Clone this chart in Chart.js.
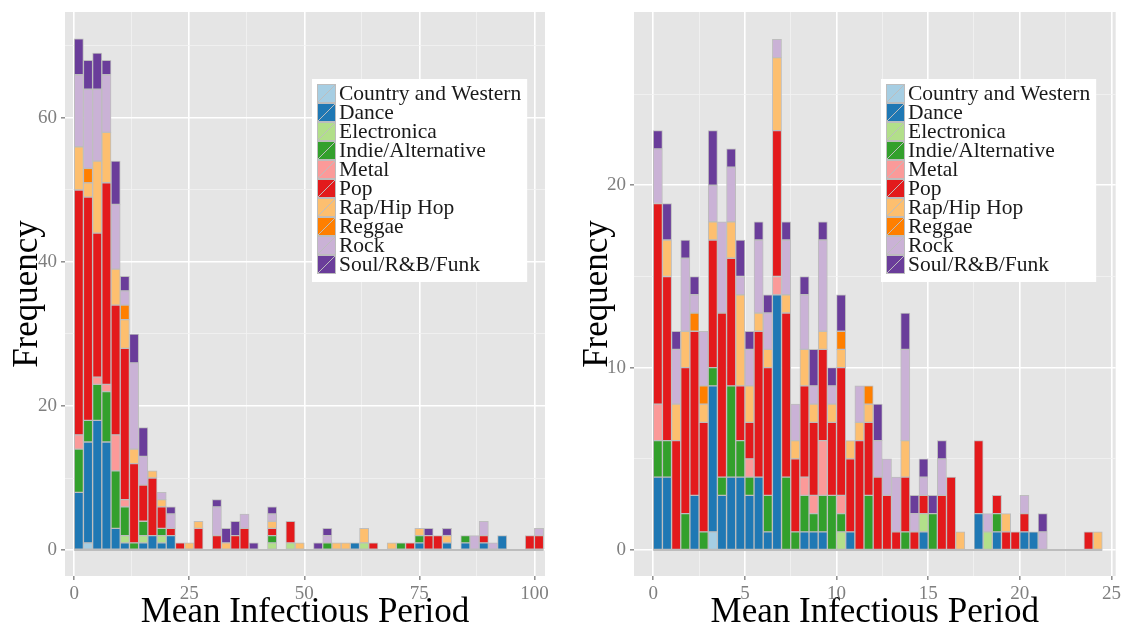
<!DOCTYPE html>
<html>
<head>
<meta charset="utf-8">
<script src="https://cdn.jsdelivr.net/npm/chart.js@4.4.1/dist/chart.umd.min.js"></script>
<style>
  body { margin: 0; background: #fff; }
  #wrap { position: relative; width: 1124px; height: 627px; }
  #wrap canvas { position: absolute; top: 0; }
</style>
</head>
<body>
<div id="wrap">
  <canvas id="left" width="562" height="627" style="left:0"></canvas>
  <canvas id="right" width="562" height="627" style="left:562px"></canvas>
</div>
<script>
var genres = ['Country and Western', 'Dance', 'Electronica', 'Indie/Alternative', 'Metal',
  'Pop', 'Rap/Hip Hop', 'Reggae', 'Rock', 'Soul/R&B/Funk'];
var genreColors = ['#A6CEE3', '#1F78B4', '#B2DF8A', '#33A02C', '#FB9A99',
  '#E31A1C', '#FDBF6F', '#FF7F00', '#CAB2D6', '#6A3D9A'];

// left panel: bins of width 2
var leftBinWidth = 2;
var leftBins = [0, 2, 4, 6, 8, 10, 12, 14, 16, 18, 20, 22, 24, 26, 28, 30, 32, 34, 36, 38,
  40, 42, 44, 46, 48, 50, 52, 54, 56, 58, 60, 62, 64, 66, 68, 70, 72, 74, 76, 78,
  80, 82, 84, 86, 88, 90, 92, 94, 96, 98, 100];
var leftCountry = [0,1,0,0,0,0,0,0,0,0, 0,0,0,0,0,0,0,0,0,0, 0,0,0,0,0,0,0,0,0,0, 0,0,0,0,0,0,0,0,0,0, 0,0,0,0,0,0,0,0,0,0, 0];
var leftDance   = [8,14,18,15,3,1,0,1,2,1, 2,0,0,0,0,0,0,0,0,0, 0,0,0,0,0,0,0,0,0,0, 1,0,0,0,0,0,0,1,0,0, 1,0,1,0,1,0,2,0,0,0, 0];
var leftElec    = [0,0,0,0,0,1,0,1,0,1, 0,0,0,0,0,0,0,0,0,0, 0,1,0,1,0,0,0,0,0,0, 0,1,0,0,0,0,0,0,0,0, 0,0,0,0,0,0,0,0,0,0, 0];
var leftIndie   = [6,3,5,7,8,4,1,2,0,1, 0,0,0,0,0,0,0,0,0,0, 0,1,0,0,0,0,0,1,0,0, 0,0,0,0,0,1,0,1,0,0, 0,0,1,0,0,0,0,0,0,0, 0];
var leftMetal   = [2,0,1,1,5,1,0,0,0,0, 0,0,0,0,0,0,0,0,0,0, 0,0,0,0,0,0,0,0,0,0, 0,0,0,0,0,0,0,0,0,0, 0,0,0,0,0,0,0,0,0,0, 0];
var leftPop     = [34,31,20,28,18,21,11,5,8,3, 1,1,0,3,0,2,0,2,3,0, 0,1,0,3,0,0,0,0,0,0, 0,0,1,0,0,0,1,0,2,2, 0,0,0,0,1,0,0,0,0,2, 2];
var leftRap     = [6,2,10,7,5,4,2,0,1,1, 0,0,1,1,0,0,1,0,0,0, 0,1,0,0,1,0,0,0,1,1, 0,2,0,0,1,0,0,1,0,0, 1,0,0,0,0,0,0,0,0,0, 0];
var leftReggae  = [0,2,0,0,0,2,0,0,0,0, 0,0,0,0,0,0,0,0,0,0, 0,0,0,0,0,0,0,0,0,0, 0,0,0,0,0,0,0,0,0,0, 0,0,0,0,0,0,0,0,0,0, 0];
var leftRock    = [10,11,10,8,9,2,12,4,0,1, 2,0,0,0,0,4,0,0,2,0, 0,1,0,0,0,0,0,1,0,0, 0,0,0,0,0,0,0,0,0,0, 0,0,0,2,2,1,0,0,0,0, 1];
var leftSoul    = [5,4,5,2,6,2,4,4,0,0, 1,0,0,0,0,1,2,2,0,1, 0,1,0,0,0,0,1,1,0,0, 0,0,0,0,0,0,0,0,1,0, 1,0,0,0,0,0,0,0,0,0, 0];

// right panel: bins of width 0.5
var rightBinWidth = 0.5;
var rightBins = [0, 0.5, 1, 1.5, 2, 2.5, 3, 3.5, 4, 4.5, 5, 5.5, 6, 6.5, 7, 7.5, 8, 8.5, 9, 9.5,
  10, 10.5, 11, 11.5, 12, 12.5, 13, 13.5, 14, 14.5, 15, 15.5, 16, 16.5, 17, 17.5, 18, 18.5, 19, 19.5,
  20, 20.5, 21, 21.5, 22, 22.5, 23, 23.5, 24];
var rightCountry = [0,0,0,0,0,0,1,0,0,0, 0,0,0,0,0,0,0,0,0,0, 0,0,0,0,0,0,0,0,0,0, 0,0,0,0,0,0,0,0,0,0, 0,0,0,0,0,0,0,0,0];
var rightDance   = [4,4,0,0,3,0,8,3,4,4, 3,4,1,14,0,0,1,1,1,0, 0,1,0,0,0,0,0,0,0,1, 0,0,0,0,0,2,0,1,0,0, 1,1,0,0,0,0,0,0,0];
var rightElec    = [0,0,0,0,0,0,0,0,0,0, 0,0,0,0,0,0,0,0,0,0, 1,0,0,0,0,0,0,0,0,1, 0,0,0,0,0,0,1,0,0,0, 0,0,0,0,0,0,0,0,0];
var rightIndie   = [2,2,0,2,0,1,1,1,5,2, 1,0,2,0,4,1,2,1,2,3, 1,0,0,3,0,0,0,1,0,0, 2,0,0,0,0,0,0,1,0,0, 0,0,0,0,0,0,0,0,0];
var rightMetal   = [2,0,0,0,0,0,0,0,0,0, 1,0,0,1,0,0,1,1,3,0, 1,0,0,0,0,0,0,0,0,0, 0,0,0,0,0,0,0,0,0,0, 0,0,0,0,0,0,0,0,0];
var rightPop     = [11,9,6,8,9,6,7,9,7,3, 2,8,7,8,9,4,5,4,5,4, 7,4,6,4,4,3,1,3,1,1, 0,3,4,0,0,4,0,1,1,1, 1,0,0,0,0,0,0,1,0];
var rightRap     = [0,2,2,2,0,1,1,0,2,5, 2,1,1,4,1,1,2,1,1,1, 1,1,1,1,0,0,0,2,0,0, 0,0,0,1,0,0,0,0,1,0, 0,0,0,0,0,0,0,0,1];
var rightReggae  = [0,0,0,0,1,1,0,0,0,0, 0,0,0,0,0,0,0,0,0,0, 1,0,0,1,0,0,0,0,0,0, 0,0,0,0,0,0,0,0,0,0, 0,0,0,0,0,0,0,0,0];
var rightRock    = [3,0,3,4,1,3,2,5,3,1, 2,4,2,1,3,2,3,1,5,1, 0,0,2,0,2,2,3,5,1,1, 0,2,0,0,0,0,1,0,0,0, 1,0,1,0,0,0,0,0,0];
var rightSoul    = [1,2,1,1,1,0,3,0,1,2, 1,1,1,0,1,0,1,2,1,1, 2,0,0,0,2,0,0,2,1,1, 1,1,0,0,0,0,0,0,0,0, 0,0,1,0,0,0,0,0,0];

var serif = '"Liberation Serif", "DejaVu Serif", serif';

// grey panel behind the plot area
var panelBackground = {
  id: 'panelBackground',
  beforeDraw: function (chart) {
    var a = chart.chartArea, ctx = chart.ctx;
    ctx.save();
    ctx.fillStyle = '#E5E5E5';
    ctx.fillRect(a.left, a.top, a.right - a.left, a.bottom - a.top);
    ctx.restore();
  }
};

// grey outline of the empty bins along y = 0
var zeroLine = {
  id: 'zeroLine',
  beforeDatasetsDraw: function (chart, args, opts) {
    var x = chart.scales.x, y = chart.scales.y, ctx = chart.ctx;
    var py = y.getPixelForValue(0);
    ctx.save();
    ctx.strokeStyle = '#BDBDBD';
    ctx.lineWidth = 2;
    ctx.beginPath();
    ctx.moveTo(x.getPixelForValue(opts.from), py);
    ctx.lineTo(x.getPixelForValue(opts.to), py);
    ctx.stroke();
    ctx.restore();
  }
};

// legend box inside the panel
var boxLegend = {
  id: 'boxLegend',
  afterDraw: function (chart, args, opts) {
    var ctx = chart.ctx, a = chart.chartArea;
    var sets = chart.data.datasets;
    var key = 19, row = 19;
    ctx.save();
    ctx.font = '21.5px ' + serif;
    var maxW = 0;
    sets.forEach(function (d) { maxW = Math.max(maxW, ctx.measureText(d.label).width); });
    var x0 = a.left + opts.dx, y0 = a.top + opts.dy;
    var w = 5 + key + 3 + maxW + 6, h = 5 + row * sets.length + 8;
    ctx.fillStyle = '#fff';
    ctx.fillRect(x0, y0, w, h);
    sets.forEach(function (d, i) {
      var kx = x0 + 5, ky = y0 + 5 + i * row;
      ctx.fillStyle = d.backgroundColor;
      ctx.fillRect(kx, ky, key, key);
      ctx.strokeStyle = '#BDBDBD';
      ctx.lineWidth = 1;
      ctx.strokeRect(kx + 0.5, ky + 0.5, key - 1, key - 1);
      ctx.beginPath();
      ctx.moveTo(kx + 1, ky + key - 1);
      ctx.lineTo(kx + key - 1, ky + 1);
      ctx.stroke();
      ctx.fillStyle = '#1A1A1A';
      ctx.textBaseline = 'middle';
      ctx.fillText(d.label, kx + key + 3, ky + key / 2 + 1);
    });
    ctx.restore();
  }
};

function makeHistogram(id, bins, width, series, cfg) {
  var datasets = series.map(function (counts, g) {
    return {
      label: genres[g],
      backgroundColor: genreColors[g],
      data: bins.map(function (b, i) { return { x: b + width / 2, y: counts[i] }; })
    };
  });
  var isMajor = function (v, m) { return v % m === 0; };
  var gridColor = function (c) { return isMajor(c.tick.value, cfg.major) ? '#FFFFFF' : '#F2F2F2'; };
  var gridWidth = function (c) { return isMajor(c.tick.value, cfg.major) ? 1.6 : 0.8; };
  var tickColor = function (c) { return isMajor(c.tick.value, cfg.major) ? '#8C8C8C' : 'rgba(0,0,0,0)'; };
  var yGridColor = function (c) { return isMajor(c.tick.value, cfg.yMajor) ? '#FFFFFF' : '#F2F2F2'; };
  var yGridWidth = function (c) { return isMajor(c.tick.value, cfg.yMajor) ? 1.6 : 0.8; };
  var yTickColor = function (c) { return isMajor(c.tick.value, cfg.yMajor) ? '#8C8C8C' : 'rgba(0,0,0,0)'; };

  return new Chart(document.getElementById(id), {
    type: 'bar',
    data: { datasets: datasets },
    plugins: [panelBackground, zeroLine, boxLegend],
    options: {
      responsive: false,
      animation: false,
      devicePixelRatio: 1,
      layout: { padding: { left: 0, right: cfg.padRight, top: 12, bottom: 0 } },
      datasets: {
        bar: { barPercentage: 1, categoryPercentage: 1, borderWidth: 1, borderColor: '#BDBDBD', borderSkipped: false }
      },
      plugins: {
        legend: { display: false },
        tooltip: { enabled: false },
        zeroLine: { from: bins[0], to: bins[bins.length - 1] + width },
        boxLegend: { dx: 247, dy: 67 }
      },
      scales: {
        x: {
          type: 'linear',
          stacked: true,
          offset: false,
          min: cfg.xMin,
          max: cfg.xMax,
          afterFit: function (s) { s.height = 51; },
          border: { display: false },
          grid: { offset: false, color: gridColor, lineWidth: gridWidth, drawTicks: true, tickLength: 4, tickColor: tickColor, tickWidth: 1.5 },
          ticks: {
            stepSize: cfg.step, includeBounds: false, autoSkip: false, maxRotation: 0, padding: 3,
            color: '#7F7F7F', font: { family: serif, size: 19 },
            callback: function (v) { return isMajor(v, cfg.major) ? v : ''; }
          },
          title: { display: true, text: 'Mean Infectious Period', color: '#000', padding: 0, font: { family: serif, size: 35, lineHeight: 0.8 } }
        },
        y: {
          stacked: true,
          min: cfg.yMin,
          max: cfg.yMax,
          afterFit: function (s) { s.width = cfg.yWidth; s.paddingTop = 0; s.paddingBottom = 0; },
          border: { display: false },
          grid: { color: yGridColor, lineWidth: yGridWidth, drawTicks: true, tickLength: 4, tickColor: yTickColor, tickWidth: 1.5 },
          ticks: {
            stepSize: cfg.yStep, includeBounds: false, autoSkip: false, padding: 4,
            color: '#7F7F7F', font: { family: serif, size: 19 },
            callback: function (v) { return isMajor(v, cfg.yMajor) ? v : ''; }
          },
          title: { display: true, text: 'Frequency', color: '#000', padding: { top: cfg.titlePad, bottom: 0 }, font: { family: serif, size: 35, lineHeight: 1 } }
        }
      }
    }
  });
}

makeHistogram('left', leftBins, leftBinWidth,
  [leftCountry, leftDance, leftElec, leftIndie, leftMetal, leftPop, leftRap, leftReggae, leftRock, leftSoul],
  { xMin: -2.0, xMax: 102.3, step: 12.5, major: 25, yMin: -3.61, yMax: 74.72, yStep: 10, yMajor: 20,
    yWidth: 65, padRight: 17, titlePad: 10 });

makeHistogram('right', rightBins, rightBinWidth,
  [rightCountry, rightDance, rightElec, rightIndie, rightMetal, rightPop, rightRap, rightReggae, rightRock, rightSoul],
  { xMin: -1.05, xMax: 25.23, step: 2.5, major: 5, yMin: -1.42, yMax: 29.5, yStep: 5, yMajor: 10,
    yWidth: 72, padRight: 6, titlePad: 18 });
</script>
</body>
</html>
